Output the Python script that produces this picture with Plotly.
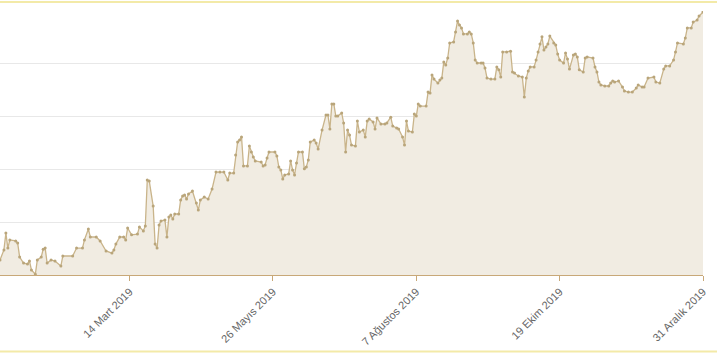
import pandas as pd
import plotly.graph_objects as go

# Day offsets from 1 Jan 2019 and values
day_offsets = [6, 8, 9, 10, 11, 14, 15, 16, 18, 20, 21, 22, 24, 25, 27, 28, 29, 30, 32, 34,
               37, 38, 43, 45, 48, 49, 51, 52, 55, 57, 60, 63, 64, 65, 67, 69, 70, 71, 73, 76,
               77, 79, 80, 81, 82, 84, 85, 86, 87, 88, 90, 91, 92, 93, 94, 95, 97, 98, 99, 100,
               101, 102, 104, 106, 107, 108, 110, 112, 114, 116, 118, 120, 122, 123, 125, 126, 127, 128, 129, 130,
               132, 133, 134, 135, 136, 139, 140, 141, 142, 143, 146, 147, 148, 149, 150, 151, 153, 154, 155, 156,
               157, 158, 160, 161, 162, 163, 164, 166, 167, 168, 170, 172, 173, 174, 175, 176, 177, 178, 180, 181,
               182, 183, 184, 185, 187, 188, 189, 191, 192, 193, 194, 196, 197, 198, 200, 202, 203, 205, 206, 208,
               209, 211, 212, 213, 214, 216, 217, 218, 219, 220, 223, 224, 225, 226, 227, 229, 230, 231, 232, 233,
               234, 235, 237, 238, 239, 240, 241, 242, 244, 245, 246, 247, 248, 249, 251, 252, 253, 254, 256, 258,
               259, 260, 261, 262, 264, 266, 267, 268, 270, 272, 273, 274, 275, 276, 278, 279, 280, 281, 282, 283,
               284, 285, 286, 288, 289, 290, 291, 293, 294, 295, 296, 298, 299, 300, 301, 303, 304, 305, 308, 309,
               310, 311, 312, 314, 316, 317, 318, 319, 321, 323, 324, 326, 328, 330, 331, 333, 334, 336, 339, 340,
               342, 344, 345, 347, 349, 350, 351, 354, 355, 356, 358, 359, 361, 362, 364]
values = [205.7, 209.5, 215.9, 210.2, 213.3, 212.9, 212.1, 206.8, 204.5, 204.2, 205.3, 201.9, 200.3, 205.7, 206.8, 209.8, 210.2, 204.5, 205.7, 205.3,
          203.4, 207.2, 207.2, 210.2, 210.2, 213.3, 217.4, 214.4, 214.4, 212.9, 209.1, 208.3, 209.5, 211.7, 214.4, 214.4, 213.3, 217.8, 215.2, 215.5,
          218.2, 216.7, 218.6, 236.0, 235.6, 226.1, 211.7, 210.2, 218.9, 220.5, 220.8, 214.4, 222.0, 222.7, 221.2, 223.1, 223.1, 228.4, 229.9, 230.3,
          228.8, 230.7, 231.8, 227.3, 224.6, 228.4, 229.5, 228.8, 232.6, 239.0, 239.0, 239.0, 236.0, 238.6, 238.6, 245.5, 250.4, 251.1, 252.3, 241.3,
          241.3, 248.9, 246.6, 244.7, 243.2, 242.8, 241.3, 241.7, 244.3, 246.6, 246.6, 245.1, 240.9, 239.8, 236.4, 237.9, 238.3, 243.2, 239.8, 237.9,
          242.4, 246.6, 246.6, 240.2, 240.9, 243.6, 250.4, 251.1, 250.0, 247.7, 254.9, 260.6, 260.6, 255.3, 264.8, 264.8, 260.2, 260.2, 261.4, 257.6,
          246.6, 254.9, 253.0, 249.2, 248.9, 258.3, 254.2, 254.9, 252.3, 258.3, 259.1, 258.0, 255.3, 259.5, 257.2, 257.2, 257.6, 259.8, 256.4, 255.7,
          255.3, 252.3, 249.2, 258.3, 254.5, 254.2, 261.0, 260.2, 264.8, 264.0, 264.0, 269.3, 268.9, 275.8, 274.2, 272.7, 273.9, 274.6, 280.7, 279.5,
          282.2, 287.9, 288.3, 292.0, 296.2, 294.7, 293.6, 291.3, 291.3, 292.0, 291.3, 287.9, 281.4, 280.3, 280.3, 280.3, 278.4, 274.6, 274.2, 274.2,
          278.8, 277.7, 275.0, 284.5, 284.5, 284.8, 276.9, 276.5, 275.4, 275.0, 267.4, 274.6, 277.3, 278.8, 278.8, 281.4, 284.5, 287.5, 290.2, 285.2,
          286.4, 287.5, 290.5, 287.9, 287.1, 283.7, 281.4, 280.3, 284.1, 281.8, 278.0, 283.3, 283.7, 282.6, 277.7, 276.9, 282.2, 282.6, 282.2, 278.8,
          276.9, 273.1, 272.0, 271.6, 271.6, 272.7, 273.5, 273.1, 273.5, 271.2, 269.7, 269.3, 269.3, 270.8, 272.0, 271.2, 271.2, 274.6, 275.0, 273.1,
          272.7, 278.0, 279.2, 279.2, 281.4, 284.5, 287.9, 287.5, 289.8, 293.6, 293.6, 295.8, 296.6, 298.1, 299.6]

tick_dates = ["2019-03-14", "2019-05-26", "2019-08-07", "2019-10-19", "2019-12-31"]
tick_labels = ["14 Mart 2019", "26 Mayıs 2019", "7 Ağustos 2019", "19 Ekim 2019", "31 Aralık 2019"]

dates = pd.Timestamp("2019-01-01") + pd.to_timedelta(day_offsets, unit="D")

LINE = "#c9b48a"
FILL = "#f1ece2"
AXIS = "#c8a878"
BORDER = "#f3eaa8"

fig = go.Figure()
fig.add_trace(go.Scatter(
    x=dates, y=values, mode="lines+markers",
    line=dict(color=LINE, width=1.3),
    marker=dict(color="#b9a57a", size=3),
    fill="tozeroy", fillcolor=FILL,
    hoverinfo="x+y", showlegend=False,
))

fig.update_layout(
    width=717, height=356,
    margin=dict(l=0, r=14, t=11, b=81),
    paper_bgcolor="white", plot_bgcolor="white",
    font=dict(family="Liberation Sans, Arial, sans-serif", size=11, color="#666666"),
    xaxis=dict(
        type="date", range=["2019-01-07", "2019-12-31"],
        tickvals=tick_dates, ticktext=tick_labels, tickangle=-45,
        showgrid=False, showline=True, linecolor=AXIS, linewidth=1,
        ticks="outside", ticklen=5, tickcolor=AXIS, tickwidth=1,
        tickfont=dict(size=11, color="#666666"), zeroline=False,
    ),
    yaxis=dict(
        range=[200, 300], dtick=20, showticklabels=False,
        showgrid=True, gridcolor="#e8e8e8", gridwidth=1,
        zeroline=False, showline=False, ticks="",
    ),
    shapes=[
        dict(type="line", xref="paper", yref="paper", x0=-0.02, x1=1.03, y0=1.034, y1=1.034,
             line=dict(color=BORDER, width=2)),
        dict(type="line", xref="paper", yref="paper", x0=-0.02, x1=1.03, y0=-0.29, y1=-0.29,
             line=dict(color=BORDER, width=2)),
    ],
)

fig.write_html("out.html")
